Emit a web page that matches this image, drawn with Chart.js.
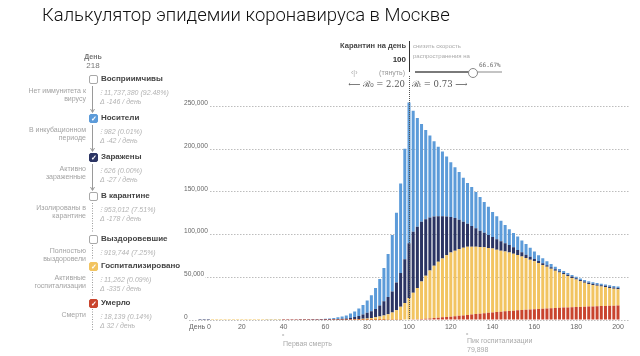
<!DOCTYPE html>
<html><head><meta charset="utf-8">
<script src="https://cdn.jsdelivr.net/npm/chart.js@4.4.0/dist/chart.umd.min.js"></script>
<style>
html,body{margin:0;padding:0;background:#fff;}
#wrap{position:relative;width:640px;height:356px;overflow:hidden;font-family:"Liberation Sans",Arial,sans-serif;}
#c{position:absolute;left:0;top:0;}
.t{position:absolute;white-space:nowrap;line-height:10px;}
.cb{position:absolute;width:7px;height:7px;border:1px solid #a8a8a8;border-radius:2px;background:#fff;color:#fff;font-size:7px;line-height:7px;text-align:center;font-weight:bold;}
#title{position:absolute;left:42px;top:3px;font-family:Roboto,"Liberation Sans",sans-serif;font-weight:300;font-size:21px;line-height:24px;color:#111;white-space:nowrap;}
</style></head>
<body>
<div id="wrap">
<canvas id="c" width="640" height="356"></canvas>
<div id="title">Калькулятор эпидемии коронавируса в Москве</div>
<svg style="position:absolute;left:0;top:0" width="640" height="356">
 <g stroke="#9a9a9a" stroke-width="1" fill="none">
  <line x1="92.5" y1="86" x2="92.5" y2="112"/><path d="M90.5 109 L92.5 112.5 L94.5 109"/>
  <line x1="92.5" y1="125" x2="92.5" y2="151"/><path d="M90.5 148 L92.5 151.5 L94.5 148"/>
  <line x1="92.5" y1="164" x2="92.5" y2="190"/><path d="M90.5 187 L92.5 190.5 L94.5 187"/>
 </g>
 <g stroke="#9a9a9a" stroke-width="1" stroke-dasharray="1,1.5" fill="none">
  <line x1="92.5" y1="203" x2="92.5" y2="233"/>
  <line x1="92.5" y1="245" x2="92.5" y2="260"/>
  <line x1="92.5" y1="272" x2="92.5" y2="297"/>
  <line x1="92.5" y1="309" x2="92.5" y2="331"/>
 </g>
</svg>
</div>
<script>
// ---- data (days sampled every 2 days) ----
const days = [0,2,4,6,8,10,12,14,16,18,20,22,24,26,28,30,32,34,36,38,40,42,44,46,48,50,52,54,56,58,60,62,64,66,68,70,72,74,76,78,80,82,84,86,88,90,92,94,96,98,100,102,104,106,108,110,112,114,116,118,120,122,124,126,128,130,132,134,136,138,140,142,144,146,148,150,152,154,156,158,160,162,164,166,168,170,172,174,176,178,180,182,184,186,188,190,192,194,196,198,200];
const deaths = [0,0,0,0,0,0,0,0,0,0,0,0,0,0,0,0,0,0,0,0,1,1,1,1,1,1,2,2,2,3,3,4,5,6,8,10,14,20,25,35,45,60,80,100,130,170,220,280,360,460,600,800,1000,1300,1600,1900,2300,2700,3100,3500,3900,4400,4900,5400,5900,6400,6900,7400,7900,8400,8900,9300,9700,10100,10500,10900,11300,11600,12000,12300,12600,12900,13200,13500,13800,14000,14300,14500,14700,14900,15100,15300,15500,15700,15900,16100,16300,16500,16700,16800,17000];
const hospitalized = [0,0,0,1,1,1,2,2,3,4,4,5,6,7,8,9,11,12,14,16,17,20,24,28,34,40,47,57,68,81,98,126,168,217,280,364,636,830,1075,1365,1755,2340,3020,3900,5070,6630,8480,11120,15040,19540,25200,31000,36500,43900,50200,56100,61100,65400,68800,72400,75000,76800,78300,79300,79900,79500,79000,78200,77300,76000,74700,73100,71500,70000,68400,66600,64700,62700,60500,58300,56100,53800,51300,48900,46200,43800,41300,39100,36700,34400,32200,30000,28200,26500,25100,23900,22900,22000,20800,19900,19000];
const infectious = [3,4,5,5,7,8,9,11,13,15,18,21,24,28,33,38,43,49,56,63,72,83,97,115,138,164,196,233,279,334,403,518,691,893,1152,1498,2050,2750,3700,5000,6600,7800,9900,12900,16700,20200,24800,32600,39500,51200,64100,71600,71700,69800,66300,62100,57900,53500,49700,45400,41600,38100,34100,30300,26900,24100,21400,18900,17000,15100,13600,12100,11000,9800,9000,7700,6100,5100,4000,3400,2800,2300,2000,1800,1700,1600,1600,1500,1500,1500,1500,1500,1500,1500,1500,1500,1500,1500,1500,1500,1500];
const exposed = [7,8,10,12,14,17,20,24,28,33,40,46,54,63,72,83,96,109,125,141,160,186,218,256,307,365,435,518,621,742,896,1152,1536,1984,2560,3328,4900,6300,8600,11300,14300,18700,24500,31100,38900,50400,66000,81500,104800,129200,164800,141600,127300,114500,104500,95900,88000,81400,75700,70200,64300,59700,55900,51700,47700,45700,42600,39600,36100,33000,29400,27100,24000,21300,18300,16800,15600,13700,12500,10600,8600,6900,5700,4700,3800,3100,2600,2200,2000,1800,1700,1700,1700,1700,1700,1700,1700,1700,1700,1700,1700];
const xTickValues = [0,20,40,60,80,100,120,140,160,180,200];
const yTickValues = [0,50000,100000,150000,200000,250000];
const quarantineDay = 100;

const RED='#c9442d', YELLOW='#f2c461', NAVY='#2b3463', BLUE='#5c9bd9';

Chart.defaults.font.family='"Liberation Sans", Arial, sans-serif';

const pts = arr => days.map((d,i)=>({x:d, y:arr[i]}));

const quarantinePlugin = {
  id:'quarantine',
  afterDatasetsDraw(chart){
    const {ctx, scales:{x}, chartArea} = chart;
    const px = Math.round(x.getPixelForValue(quarantineDay)) + 0.5;
    ctx.save();
    ctx.lineWidth = 1;
    ctx.strokeStyle = '#333';
    ctx.beginPath(); ctx.moveTo(px, 41); ctx.lineTo(px, 72); ctx.stroke();
    ctx.setLineDash([1,1]);
    ctx.strokeStyle = '#555';
    ctx.beginPath(); ctx.moveTo(px, 76); ctx.lineTo(px, chartArea.bottom); ctx.stroke();
    ctx.restore();
  }
};

new Chart(document.getElementById('c'), {
  type:'bar',
  data:{datasets:[
    {label:'Умерло', data:pts(deaths), backgroundColor:RED},
    {label:'Госпитализировано', data:pts(hospitalized), backgroundColor:YELLOW},
    {label:'Заражены', data:pts(infectious), backgroundColor:NAVY},
    {label:'Носители', data:pts(exposed), backgroundColor:BLUE}
  ]},
  options:{
    responsive:false, animation:false, devicePixelRatio:1,
    layout:{padding:{left:183, right:10, top:95.4, bottom:22}},
    plugins:{legend:{display:false}, tooltip:{enabled:false}},
    datasets:{bar:{categoryPercentage:1, barPercentage:0.72, borderWidth:0}},
    scales:{
      x:{type:'linear', stacked:true, offset:false, min:-8.13, max:205.74,
         grid:{display:false, drawTicks:false, tickLength:0, offset:false}, border:{display:false},
         afterBuildTicks:s=>{s.ticks = xTickValues.map(v=>({value:v}));},
         afterFit:s=>{s.height=14;},
         ticks:{font:{size:7}, color:'#666', padding:3, maxRotation:0, autoSkip:false,
                callback:v=> v===0 ? 'День 0' : String(v)}},
      y:{stacked:true, min:0, max:263000,
         grid:{color:'#bdbdbd', drawTicks:false, lineWidth:1},
         border:{display:false, dash:[1.5,1.5]},
         afterBuildTicks:s=>{s.ticks = yTickValues.map(v=>({value:v}));},
         afterFit:s=>{s.width=0;},
         ticks:{mirror:true, padding:1, labelOffset:-3, font:{size:6.6}, color:'#666',
                showLabelBackdrop:true, backdropColor:'#fff', backdropPadding:{x:1,y:0},
                callback:v=> Number(v).toLocaleString('en-US')}}
    }
  },
  plugins:[quarantinePlugin]
});

// ---- text ----
const wrap = document.getElementById('wrap');
function put(text, x, cy, style, align){
  const el = document.createElement('div');
  el.className='t'; el.textContent=text; el.style.cssText += style;
  el.style.top = (cy-5)+'px';
  if(align==='right') el.style.right=(640-x)+'px';
  else if(align==='center'){ el.style.left=x+'px'; el.style.transform='translateX(-50%)'; }
  else el.style.left=x+'px';
  wrap.appendChild(el); return el;
}
function box(cy, color){
  const el=document.createElement('div'); el.className='cb';
  el.style.left='89px'; el.style.top=(cy-4.5)+'px';
  if(color){ el.style.background=color; el.style.borderColor=color; el.textContent='✓'; }
  wrap.appendChild(el);
}
const LBL='font-weight:bold;font-size:8px;color:#444;';
const DSC='font-size:7px;color:#a3a3a3;';
const STA='font-size:7px;font-style:italic;color:#b3b3b3;';

put('День',93,57,'font-weight:bold;font-size:7px;color:#777;','center');
put('218',93,66,'font-size:8px;color:#777;','center');

const panel = [
  {cy:79,  color:null,   name:'Восприимчивы', desc:['Нет иммунитета к','вирусу'], stats:['⁝ 11,737,380 (92.48%)','Δ -146 / день']},
  {cy:118, color:BLUE,   name:'Носители', desc:['В инкубационном','периоде'], stats:['⁝ 982 (0.01%)','Δ -42 / день']},
  {cy:157, color:NAVY,   name:'Заражены', desc:['Активно','зараженные'], stats:['⁝ 626 (0.00%)','Δ -27 / день']},
  {cy:196, color:null,   name:'В карантине', desc:['Изолированы в','карантине'], stats:['⁝ 953,012 (7.51%)','Δ -178 / день']},
  {cy:239, color:null,   name:'Выздоровевшие', desc:['Полностью','выздоровели'], stats:['⁝ 919,744 (7.25%)']},
  {cy:266, color:YELLOW, name:'Госпитализировано', desc:['Активные','госпитализации'], stats:['⁝ 11,262 (0.09%)','Δ -335 / день']},
  {cy:303, color:RED,    name:'Умерло', desc:['Смерти'], stats:['⁝ 18,139 (0.14%)','Δ 32 / день']}
];
panel.forEach(p=>{
  box(p.cy, p.color);
  put(p.name,101,p.cy,LBL);
  p.desc.forEach((d,i)=>put(d,86,p.cy+12+i*8,DSC,'right'));
  p.stats.forEach((s,i)=>put(s,100,p.cy+14+i*9,STA));
});

// quarantine controls
put('Карантин на день',406,46,'font-weight:bold;font-size:7.5px;color:#444;','right');
put('100',406,59.5,'font-weight:bold;font-size:8px;color:#333;','right');
put('‹|›',351,73,'font-size:7px;color:#aaa;');
put('(тянуть)',405,73,'font-size:7px;color:#999;','right');
put('⟵ ℛ₀ = 2.20',405,84,'font-family:"DejaVu Serif",serif;font-size:8.5px;color:#555;','right');
put('ℛₜ = 0.73 ⟶',412,84,'font-family:"DejaVu Serif",serif;font-size:8.5px;color:#555;');
put('снизить скорость',413,46,'font-size:6px;color:#aaa;');
put('распространения на',413,55.5,'font-size:6px;color:#aaa;');
put('66.67%',479,65,'font-family:"DejaVu Sans Mono",monospace;font-size:6px;color:#666;');
const track=document.createElement('div');
track.style.cssText='position:absolute;left:415px;top:71px;width:87px;height:2px;background:#c4c4c4;';
wrap.appendChild(track);
const fill=document.createElement('div');
fill.style.cssText='position:absolute;left:415px;top:71px;width:57px;height:2px;background:#7a7a7a;';
wrap.appendChild(fill);
const knob=document.createElement('div');
knob.style.cssText='position:absolute;left:467.5px;top:67.5px;width:8px;height:8px;border:1px solid #888;border-radius:50%;background:#fff;';
wrap.appendChild(knob);

// annotations
put('ₓ',282,334,'font-size:7px;color:#999;');
put('Первая смерть',283,344,'font-size:7px;color:#aaa;');
put('ₓ',466,333,'font-size:7px;color:#999;');
put('Пик госпитализации',467,341,'font-size:7px;color:#aaa;');
put('79,898',467,349.5,'font-size:7px;color:#aaa;');

// fit title width
const t=document.getElementById('title');
const w=t.getBoundingClientRect().width;
t.style.fontSize=(21*408/w)+'px';
</script>
</body></html>
